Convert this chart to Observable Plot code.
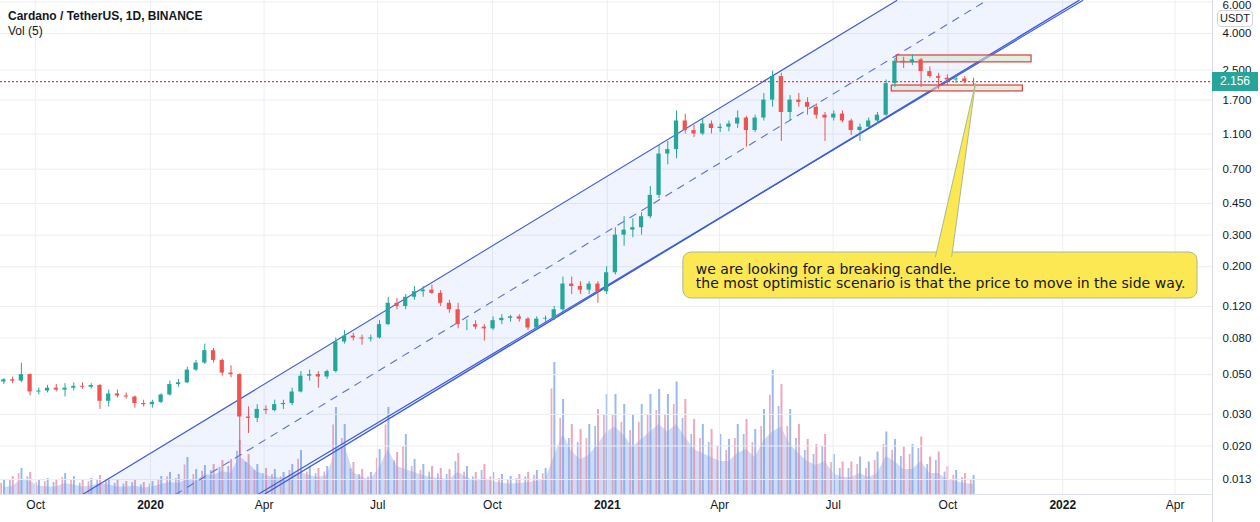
<!DOCTYPE html>
<html><head><meta charset="utf-8">
<script src="https://cdn.jsdelivr.net/npm/d3@7"></script>
<script src="https://cdn.jsdelivr.net/npm/@observablehq/plot@0.6"></script>
<style>
html,body{margin:0;padding:0;background:#fff;}
#wrap{position:relative;width:1260px;height:522px;overflow:hidden;font-family:"Liberation Sans",Arial,sans-serif;color:#131722;}
#wrap svg{position:absolute;left:0;top:0;}
.ov{position:absolute;white-space:nowrap;}
</style></head><body><div id="wrap"></div><script>
// ---------- data (weekly candles, ADA/USDT) ----------
const firstWeek = "2019-09-02";
const open  = [.0455,.0468,.0460,.0500,.0400,.0405,.0420,.0410,.0420,.0430,.0425,.0435,.0355,.0390,.0380,.0375,.0345,.0340,.0350,.0385,.0440,.0450,.0530,.0580,.0680,.0600,.0510,.0500,.0290,.0285,.0320,.0315,.0340,.0345,.0400,.0490,.0500,.0485,.0520,.0760,.0820,.0800,.0790,.0800,.0950,.1250,.1200,.1350,.1450,.1480,.1420,.1250,.1150,.0950,.0950,.0920,.0900,.1000,.1030,.1050,.1020,.0910,.1020,.1030,.1150,.1600,.1550,.1480,.1600,.1450,.1850,.3000,.3200,.3300,.3800,.5000,.8500,.9000,1.300,1.150,1.100,1.250,1.180,1.200,1.250,1.350,1.150,1.350,1.700,2.300,1.450,1.700,1.650,1.550,1.400,1.350,1.420,1.300,1.150,1.200,1.300,1.400,2.100,2.800,2.750,2.850,2.450,2.300,2.250,2.200,2.230,2.150];
const high  = [.0475,.0485,.0580,.0505,.0420,.0435,.0440,.0445,.0450,.0450,.0445,.0440,.0410,.0410,.0395,.0380,.0360,.0360,.0390,.0460,.0470,.0550,.0600,.0740,.0700,.0610,.0560,.0505,.0330,.0340,.0335,.0360,.0360,.0420,.0520,.0530,.0520,.0530,.0800,.0880,.0850,.0830,.0830,.1000,.1350,.1330,.1400,.1550,.1550,.1580,.1470,.1300,.1250,.1010,.1000,.0950,.1050,.1080,.1070,.1080,.1040,.1050,.1060,.1200,.1750,.1750,.1650,.1650,.1650,.2000,.3300,.3800,.3700,.4000,.5600,.9500,1.000,1.480,1.420,1.230,1.330,1.300,1.250,1.300,1.480,1.380,1.400,1.850,2.470,2.400,1.800,1.850,1.750,1.620,1.450,1.480,1.480,1.330,1.250,1.350,1.450,2.200,2.900,2.950,3.050,2.900,2.600,2.400,2.350,2.350,2.300,2.250];
const low   = [.0440,.0445,.0450,.0380,.0385,.0395,.0400,.0375,.0405,.0415,.0415,.0320,.0330,.0370,.0365,.0325,.0330,.0325,.0345,.0380,.0425,.0445,.0520,.0570,.0580,.0490,.0480,.0175,.0235,.0270,.0300,.0310,.0320,.0335,.0395,.0460,.0420,.0470,.0510,.0740,.0770,.0730,.0760,.0790,.0940,.1150,.1150,.1300,.1350,.1400,.1200,.1100,.0900,.0880,.0890,.0770,.0880,.0950,.0980,.0980,.0880,.0890,.0980,.1000,.1100,.1400,.1400,.1400,.1250,.1400,.1800,.2600,.2900,.3000,.3700,.4800,.7400,.8000,1.100,1.050,1.080,1.100,1.120,1.130,1.180,0.930,1.120,1.300,1.550,1.000,1.300,1.550,1.400,1.330,1.000,1.300,1.270,1.080,1.000,1.180,1.250,1.380,2.000,2.550,2.650,2.000,2.250,1.950,2.050,2.100,2.100,2.050];
const close = [.0468,.0460,.0500,.0400,.0405,.0420,.0410,.0420,.0430,.0425,.0435,.0355,.0390,.0380,.0375,.0345,.0340,.0350,.0385,.0440,.0450,.0530,.0580,.0680,.0600,.0510,.0500,.0290,.0285,.0320,.0315,.0340,.0345,.0400,.0490,.0500,.0485,.0520,.0760,.0820,.0800,.0790,.0800,.0950,.1250,.1200,.1350,.1450,.1480,.1420,.1250,.1150,.0950,.0950,.0920,.0900,.1000,.1030,.1050,.1020,.0910,.1020,.1030,.1150,.1600,.1550,.1480,.1600,.1450,.1850,.3000,.3200,.3300,.3800,.5000,.8500,.9000,1.300,1.150,1.100,1.250,1.180,1.200,1.250,1.350,1.150,1.350,1.700,2.300,1.450,1.700,1.650,1.550,1.400,1.350,1.420,1.300,1.150,1.200,1.300,1.400,2.100,2.800,2.750,2.850,2.450,2.300,2.250,2.200,2.230,2.150,2.156];
// volume, millions ADA: typical (5-day average) and peak daily value of each week
const volAvg = [140,160,300,260,170,150,150,220,190,150,170,220,190,150,150,170,130,150,200,240,220,300,260,400,380,460,420,760,620,450,380,340,320,400,440,380,340,380,900,1000,440,340,300,540,900,560,500,440,380,340,320,300,440,340,260,320,260,220,210,220,240,260,300,760,1200,860,700,780,1000,1250,1350,1180,950,1100,1250,1400,1250,1400,1150,900,820,740,660,660,820,900,740,1080,1250,1350,1000,820,660,580,660,420,340,340,420,340,420,760,660,500,500,660,420,420,300,260,220,200];
const volMax = [280,360,520,440,300,320,300,420,360,280,320,380,320,280,260,300,240,260,360,440,400,740,500,580,600,680,700,1080,800,600,520,500,440,600,880,560,520,560,1740,1400,640,500,440,900,1740,840,1200,700,600,560,520,500,820,560,440,600,440,400,360,400,440,480,520,2640,1900,1400,1300,1400,1700,2000,2000,1800,1600,1800,2000,2100,2000,2250,1900,1500,1400,1300,1200,1100,1400,1500,1300,1700,2480,2200,1700,1400,1100,1000,1200,800,650,650,750,650,850,1250,1100,950,1000,1150,750,850,560,480,420,380];
const lastPrice = 2.156;

// axes
const yTicks = [6, 4, 2.5, 1.7, 1.1, 0.7, 0.45, 0.3, 0.2, 0.12, 0.08, 0.05, 0.03, 0.02, 0.013];
const monthTicks = ["2019-10-01","2020-04-01","2020-07-01","2020-10-01","2021-04-01","2021-07-01","2021-10-01","2022-04-01"];
const monthLabels = ["Oct","Apr","Jul","Oct","Apr","Jul","Oct","Apr"];
const yearTicks = ["2020-01-01","2021-01-01","2022-01-01"];
const yearLabels = ["2020","2021","2022"];
const xDomain = ["2019-09-02T19:00Z","2022-05-01T00:00Z"];
const yDomain = [0.01072, 6.11];

// drawings (parallel channel, zones, callout)
const channelUpper = [{t:"2019-11-07T12:00Z", p:0.01072}, {t:"2021-08-21", p:6.11}];
const channelMid   = [{t:"2020-01-21", p:0.01072}, {t:"2021-11-01", p:6.11}];
const channelLower = [{t:"2020-04-01", p:0.01072}, {t:"2022-01-14", p:6.11}];
const trendLower   = [{t:"2020-03-27", p:0.01072}, {t:"2022-01-17", p:6.11}];
const zones = [
  {t1:"2021-08-21", t2:"2021-12-07", p1:2.76, p2:3.015},
  {t1:"2021-08-17", t2:"2021-11-30", p1:1.90, p2:2.05}
];
const calloutBox = [{t1:"2021-03-03", t2:"2022-04-19", p1:0.133, p2:0.240}];
const calloutPointer = [{t:"2021-09-21", p:0.2277}, {t:"2021-10-23", p:2.104}, {t:"2021-10-04", p:0.2277}];
const calloutLines = [
  {t:"2021-03-13", p:0.194, s:"we are looking for a breaking candle."},
  {t:"2021-03-13", p:0.161, s:"the most optimistic scenario is that the price to move in the side way."}
];
const title = "Cardano / TetherUS, 1D, BINANCE";
const subtitle = "Vol (5)";
const currency = "USDT";

// ---------- build ----------
const T = s => new Date(s);
const day = (d, n) => new Date(+d + n * 864e5);
const start = T(firstWeek);
const weeks = open.map((o, i) => ({
  t: day(start, i * 7), o, h: high[i], l: low[i], c: close[i], va: volAvg[i], vm: volMax[i]
}));
const UP = "#26a69a", DOWN = "#ef5350";
const common = {
  width: 1260, height: 522, marginLeft: 0, marginRight: 48, marginTop: 0, marginBottom: 28,
  style: {background: "transparent", overflow: "visible"}
};
const xs = {type: "utc", domain: xDomain.map(T), axis: null};

const volPlot = Plot.plot({
  ...common,
  x: xs,
  y: {domain: [0, 2480], range: [494, 370], axis: null},
  color: {type: "identity"},
  marks: [
    Plot.areaY(weeks, {x: d => day(d.t, 3.5), y: "va", fill: "#b4c7f3", fillOpacity: 0.65}),
    Plot.rect(weeks, {x1: d => day(d.t, 1.0), x2: d => day(d.t, 2.4), y1: 0, y2: d => d.vm * 0.8,
      fill: d => d.c >= d.o ? "#e58aa6" : "#7aa3e6", fillOpacity: 0.7}),
    Plot.rect(weeks, {x1: d => day(d.t, 3.2), x2: d => day(d.t, 4.8), y1: 0, y2: "vm",
      fill: d => d.c >= d.o ? "#7aa3e6" : "#e58aa6", fillOpacity: 0.75})
  ]
});

const pts = a => a.map(d => ({t: T(d.t), p: d.p}));
const fillPoly = [...pts(channelUpper), ...pts(channelLower).reverse()];
const chFont = "'Liberation Sans', Arial, sans-serif";

const main = Plot.plot({
  ...common,
  x: xs,
  y: {type: "log", domain: yDomain, axis: null},
  color: {type: "identity"},
  marks: [
    Plot.ruleY(yTicks, {stroke: "#eceef3"}),
    Plot.ruleX([...monthTicks, ...yearTicks].map(T), {stroke: "#eceef3"}),
    Plot.line(fillPoly, {x: "t", y: "p", fill: "#2962ff", fillOpacity: 0.07, stroke: "none"}),
    Plot.line(pts(channelUpper), {x: "t", y: "p", stroke: "#3d5bd8", strokeWidth: 1.1}),
    Plot.line(pts(channelMid), {x: "t", y: "p", stroke: "#5a72d8", strokeWidth: 1.1, strokeDasharray: "7,7"}),
    Plot.line(pts(channelLower), {x: "t", y: "p", stroke: "#3d5bd8", strokeWidth: 1.4}),
    Plot.line(pts(trendLower), {x: "t", y: "p", stroke: "#3d5bd8", strokeWidth: 1.1}),
    Plot.ruleY([lastPrice], {stroke: "#f23645", strokeDasharray: "2,2", strokeWidth: 1.2}),
    Plot.rect(zones, {x1: d => T(d.t1), x2: d => T(d.t2), y1: "p1", y2: "p2",
      fill: "#cfe6cc", fillOpacity: 0.6, stroke: "#e0393e", strokeWidth: 1.2}),
    Plot.ruleX(weeks, {x: d => day(d.t, 3.5), y1: "l", y2: "h", stroke: d => d.c >= d.o ? UP : DOWN, strokeWidth: 1}),
    Plot.rect(weeks, {x1: d => day(d.t, 1.8), x2: d => day(d.t, 5.2), y1: "o", y2: "c",
      fill: d => d.c >= d.o ? UP : DOWN}),
    Plot.rect(calloutBox, {x1: d => T(d.t1), x2: d => T(d.t2), y1: "p1", y2: "p2",
      fill: "#fbe852", stroke: "#a9bb8c", strokeWidth: 1, rx: 8, ry: 8}),
    Plot.line(pts(calloutPointer), {x: "t", y: "p", fill: "#fbe852", stroke: "#a9bb8c", strokeWidth: 1}),
    Plot.text(calloutLines, {x: d => T(d.t), y: "p", text: "s", textAnchor: "start",
      fontSize: 14, fontFamily: "'DejaVu Sans',sans-serif", fill: "#131722"}),
    Plot.text(yTicks.filter(d => d < 6), {y: d => d, text: d => d3.format(".3f")(d), frameAnchor: "right", dx: 10,
      textAnchor: "start", fontSize: 11.5, fontFamily: chFont, fill: "#131722"}),
    Plot.text(yTicks.filter(d => d >= 6), {y: d => d, text: d => d3.format(".3f")(d), frameAnchor: "right", dx: 10,
      textAnchor: "start", lineAnchor: "top", dy: -1, fontSize: 11.5, fontFamily: chFont, fill: "#131722"}),
    Plot.text(monthTicks.map(T), {x: d => d, text: (d, i) => monthLabels[i], frameAnchor: "bottom", dy: 14,
      fontSize: 12, fontFamily: chFont, fill: "#131722"}),
    Plot.text(yearTicks.map(T), {x: d => d, text: (d, i) => yearLabels[i], frameAnchor: "bottom", dy: 14,
      fontSize: 12, fontWeight: "bold", fontFamily: chFont, fill: "#131722"})
  ]
});

const wrap = document.getElementById("wrap");
wrap.appendChild(volPlot);
wrap.appendChild(main);

function ov(html, css) {
  const d = document.createElement("div");
  d.className = "ov"; d.innerHTML = html; d.style.cssText += css; wrap.appendChild(d); return d;
}
// pane borders
ov("", "left:1212px;top:0;width:1px;height:522px;background:#d6d9e0;");
ov("", "left:0;top:494px;width:1212px;height:1px;background:#e0e3eb;");
// title
ov(title, "left:8px;top:9px;font:bold 12px 'Liberation Sans',Arial,sans-serif;line-height:14px;");
ov(subtitle, "left:8px;top:24px;font:12px 'Liberation Sans',Arial,sans-serif;line-height:14px;");
// currency tag
ov(currency, "left:1217px;top:10px;width:34px;height:15px;border:1px solid #d1d4dc;border-radius:4px;background:#fff;font:11px 'Liberation Sans',Arial,sans-serif;line-height:15px;text-align:center;");
// last price tag
const yLast = main.scale("y").apply(lastPrice);
ov(d3.format(".3f")(lastPrice), `left:1212px;top:${yLast - 9.5}px;width:46px;height:19px;background:#26a69a;color:#fff;font:12px 'Liberation Sans',Arial,sans-serif;line-height:19px;text-align:center;`);
</script></body></html>
